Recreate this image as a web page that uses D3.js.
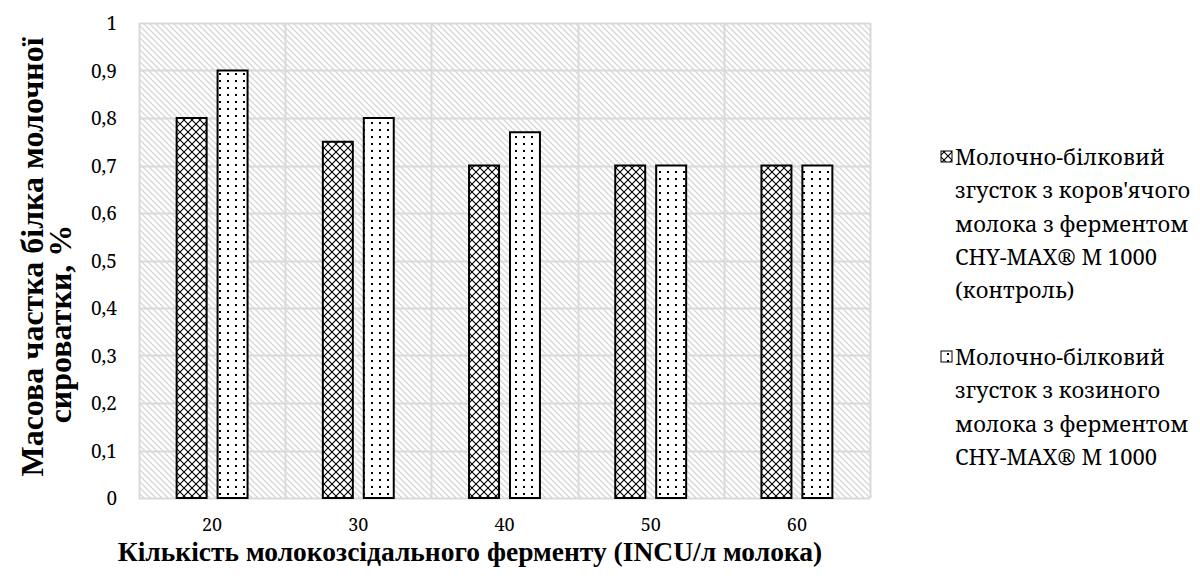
<!DOCTYPE html>
<html>
<head>
<meta charset="utf-8">
<script src="https://cdn.jsdelivr.net/npm/d3@7"></script>
<style>
  body { margin: 0; background: #fff; }
</style>
</head>
<body>
<div id="vis_result"></div>
<script>
// chart data
var categories = ['20', '30', '40', '50', '60']
var cowValues = [0.8, 0.75, 0.7, 0.7, 0.7]
var goatValues = [0.9, 0.8, 0.77, 0.7, 0.7]
var yTicks = [0, 0.1, 0.2, 0.3, 0.4, 0.5, 0.6, 0.7, 0.8, 0.9, 1]
var seriesNames = [
    ['Молочно-білковий', "згусток з коров'ячого", 'молока з ферментом', 'CHY-MAX® M 1000', '(контроль)'],
    ['Молочно-білковий', 'згусток з козиного', 'молока з ферментом', 'CHY-MAX® M 1000']
]
var yTitle = ['Масова частка білка молочної', 'сироватки, %']
var xTitle = 'Кількість молокозсідального ферменту (INCU/л молока)'

var width = 1200, height = 585
var plot = { left: 139, top: 23, right: 870, bottom: 498 }
// regular Liberation Serif falls back to a sans here, so Noto Serif for plain text
var serif = '"Noto Serif", "Liberation Serif", serif'
var serifBold = '"Liberation Serif", "Times New Roman", serif'

var svg = d3.select('#vis_result')
    .append('svg')
    .attr('width', width)
    .attr('height', height)

// patterns
var defs = svg.append('defs')

var bgPat = defs.append('pattern')
    .attr('id', 'bg')
    .attr('patternUnits', 'userSpaceOnUse')
    .attr('width', 6).attr('height', 6)
bgPat.append('rect').attr('width', 6).attr('height', 6).attr('fill', '#fff')
bgPat.append('path')
    .attr('d', 'M-1,-1 L7,7 M-4,2 L2,8 M4,-2 L10,4')
    .attr('stroke', '#d6d6d6').attr('stroke-width', 1.3)

var crossPat = defs.append('pattern')
    .attr('id', 'cross')
    .attr('patternUnits', 'userSpaceOnUse')
    .attr('width', 8).attr('height', 8)
crossPat.append('rect').attr('width', 8).attr('height', 8).attr('fill', '#fff')
crossPat.append('path')
    .attr('d', 'M0,0 L8,8 M8,0 L0,8')
    .attr('stroke', '#000').attr('stroke-width', 1.1)

var dotPat = defs.append('pattern')
    .attr('id', 'dots')
    .attr('patternUnits', 'userSpaceOnUse')
    .attr('width', 8).attr('height', 7)
dotPat.append('rect').attr('width', 8).attr('height', 7).attr('fill', '#fff')
dotPat.append('rect').attr('x', 3).attr('y', 3).attr('width', 2).attr('height', 2).attr('fill', '#000')

// scales
var x = d3.scaleBand()
    .domain(categories)
    .range([plot.left, plot.right])
var y = d3.scaleLinear()
    .domain([0, 1])
    .range([plot.bottom, plot.top])

// background
svg.append('rect')
    .attr('x', plot.left).attr('y', plot.top)
    .attr('width', plot.right - plot.left)
    .attr('height', plot.bottom - plot.top)
    .attr('fill', 'url(#bg)')

// gridlines
svg.append('g')
    .selectAll('line')
    .data(yTicks)
    .enter()
    .append('line')
    .attr('x1', plot.left).attr('x2', plot.right)
    .attr('y1', d => Math.round(y(d)) + 0.5)
    .attr('y2', d => Math.round(y(d)) + 0.5)
    .attr('stroke', '#d9d9d9').attr('stroke-width', 2)

var bounds = categories.map(c => x(c)).concat([plot.right])
svg.append('g')
    .selectAll('line')
    .data(bounds)
    .enter()
    .append('line')
    .attr('y1', plot.top).attr('y2', plot.bottom)
    .attr('x1', d => Math.round(d) + 0.5)
    .attr('x2', d => Math.round(d) + 0.5)
    .attr('stroke', '#d9d9d9').attr('stroke-width', 2)

// bars
var bw = x.bandwidth()
var barW = bw * 0.205
var gap = bw * 0.075
var series = [
    { values: cowValues, fill: 'url(#cross)', off: -gap / 2 - barW },
    { values: goatValues, fill: 'url(#dots)', off: gap / 2 }
]
series.forEach(function (s) {
    svg.append('g')
        .selectAll('rect')
        .data(categories)
        .enter()
        .append('rect')
        .attr('x', (d) => x(d) + bw / 2 + s.off)
        .attr('y', (d, i) => y(s.values[i]))
        .attr('width', barW)
        .attr('height', (d, i) => y(0) - y(s.values[i]))
        .attr('fill', s.fill)
        .attr('stroke', '#000')
        .attr('stroke-width', 2)
})

// y tick labels
svg.append('g')
    .selectAll('text')
    .data(yTicks)
    .enter()
    .append('text')
    .attr('x', 117)
    .attr('y', d => y(d) + 7)
    .attr('text-anchor', 'end')
    .style('font-family', serif)
    .style('font-size', '19px')
    .text(d => d3.format('.1~f')(d).replace('.', ','))

// x tick labels
svg.append('g')
    .selectAll('text')
    .data(categories)
    .enter()
    .append('text')
    .attr('x', d => x(d) + bw / 2)
    .attr('y', 531)
    .attr('text-anchor', 'middle')
    .style('font-family', serif)
    .style('font-size', '18px')
    .text(d => d)

// axis titles
var yTitlePos = [[43, 257], [71, 324]]
svg.append('g')
    .selectAll('text')
    .data(yTitle)
    .enter()
    .append('text')
    .attr('transform', (d, i) => 'translate(' + yTitlePos[i][0] + ',' + yTitlePos[i][1] + ') rotate(-90)')
    .attr('text-anchor', 'middle')
    .style('font-family', serifBold)
    .style('font-size', '32px')
    .style('font-weight', 'bold')
    .text(d => d)

svg.append('text')
    .attr('x', 470)
    .attr('y', 561)
    .attr('text-anchor', 'middle')
    .style('font-family', serifBold)
    .style('font-size', '27.5px')
    .style('font-weight', 'bold')
    .text(xTitle)

// legend
var legendFills = ['url(#cross)', 'url(#dots)']
var legendTop = [157, 357]
seriesNames.forEach(function (lines, k) {
    svg.append('rect')
        .attr('x', 941).attr('y', legendTop[k] - 6)
        .attr('width', 11).attr('height', 11)
        .attr('fill', legendFills[k])
        .attr('stroke', '#000').attr('stroke-width', 1)
    svg.append('text')
        .attr('x', 955)
        .attr('y', legendTop[k] + 8)
        .style('font-family', serif)
        .style('font-size', '22px')
        .selectAll('tspan')
        .data(lines)
        .enter()
        .append('tspan')
        .attr('x', 955)
        .attr('dy', (d, i) => i == 0 ? 0 : 33.3)
        .text(d => d)
})
</script>
</body>
</html>
